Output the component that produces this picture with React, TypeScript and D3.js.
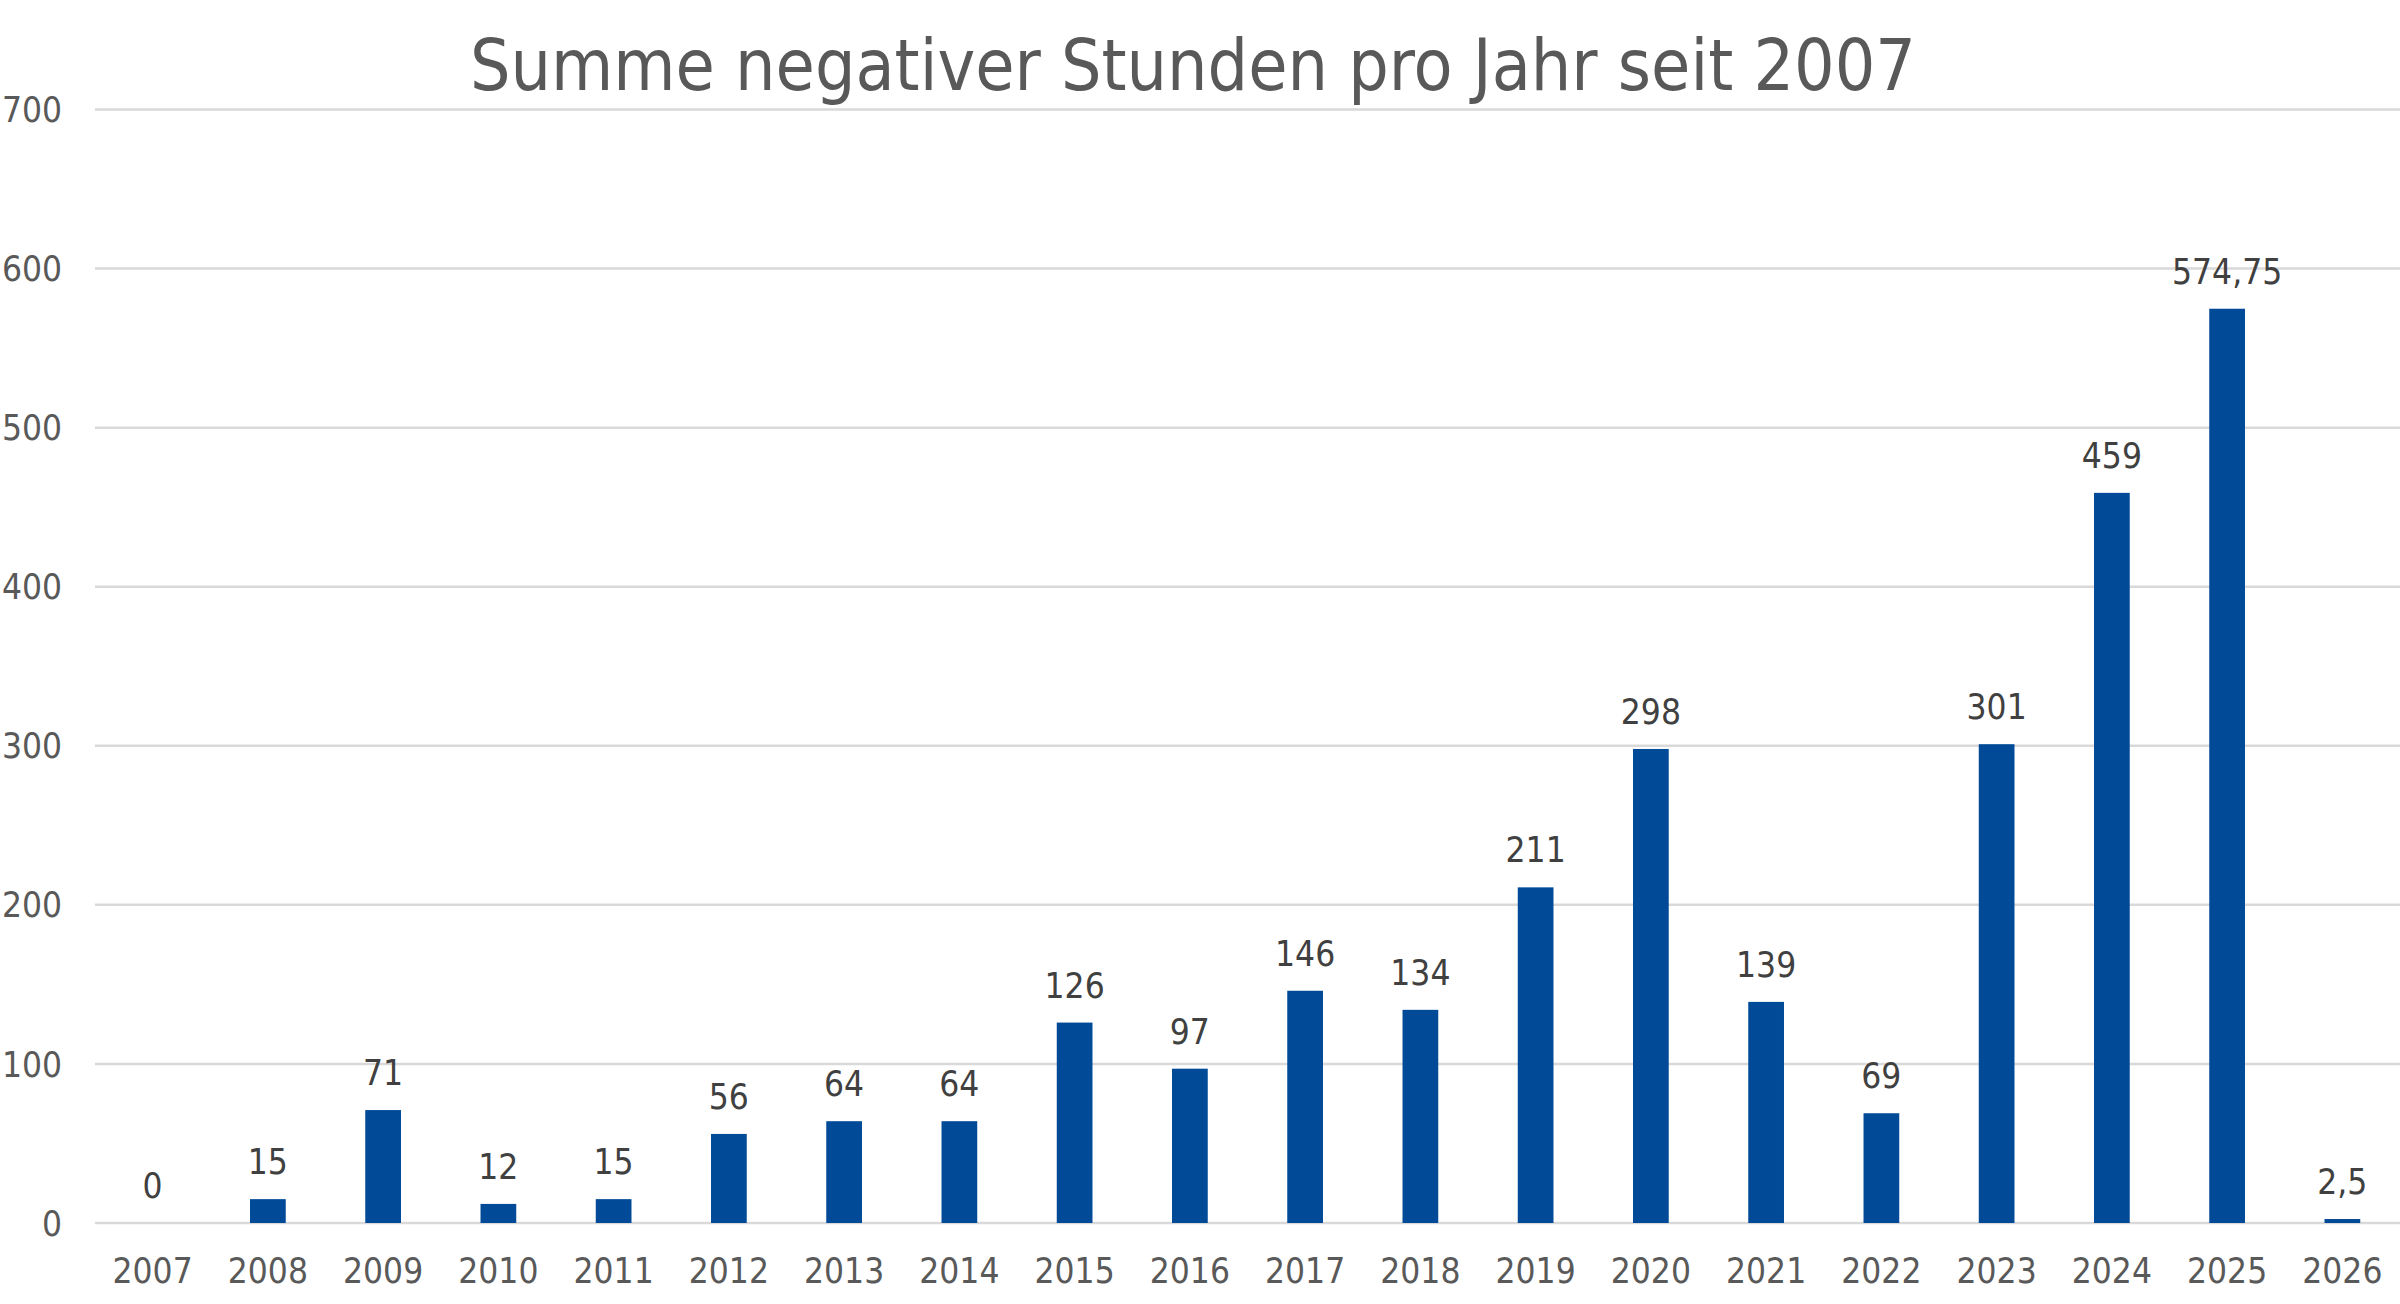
import { useEffect, useRef } from "react";
import { select, scaleBand, scaleLinear, range } from "d3";

const years = [
  "2007", "2008", "2009", "2010", "2011", "2012", "2013", "2014", "2015", "2016",
  "2017", "2018", "2019", "2020", "2021", "2022", "2023", "2024", "2025", "2026",
];
const hours = [0, 15, 71, 12, 15, 56, 64, 64, 126, 97, 146, 134, 211, 298, 139, 69, 301, 459, 574.75, 2.5];
const yTicks = [0, 100, 200, 300, 400, 500, 600, 700];
const title = "Summe negativer Stunden pro Jahr seit 2007";

const W = 2400;
const H = 1304;
const FONT = "'DejaVu Sans Condensed', 'DejaVu Sans', sans-serif";
const TEXT = "#595959";
const BAR = "#004A97";

const fmt = (v: number) => String(v).replace(".", ",");

export default function App() {
  const ref = useRef<SVGSVGElement | null>(null);

  useEffect(() => {
    if (!ref.current) return;
    const svg = select(ref.current);
    svg.selectAll("*").remove();

    const x = scaleBand<string>().domain(years).range([95, 2400]).padding(0);
    const y = scaleLinear().domain([0, 700]).range([1223, 109.5]);
    const barW = x.bandwidth() * 0.31;

    svg
      .append("g")
      .selectAll("line")
      .data(yTicks)
      .join("line")
      .attr("x1", 95)
      .attr("x2", 2400)
      .attr("y1", (d) => y(d))
      .attr("y2", (d) => y(d))
      .attr("stroke", "#d9d9d9")
      .attr("stroke-width", 2.5);

    svg
      .append("g")
      .selectAll("text")
      .data(yTicks)
      .join("text")
      .attr("x", 62)
      .attr("y", (d) => y(d))
      .attr("dy", "0.36em")
      .attr("text-anchor", "end")
      .attr("font-family", FONT)
      .attr("font-size", 35)
      .attr("fill", TEXT)
      .text((d) => String(d));

    const idx = range(years.length);

    svg
      .append("g")
      .selectAll("rect")
      .data(idx)
      .join("rect")
      .attr("x", (i) => (x(years[i]) ?? 0) + x.bandwidth() / 2 - barW / 2)
      .attr("width", barW)
      .attr("y", (i) => y(hours[i]))
      .attr("height", (i) => y(0) - y(hours[i]))
      .attr("fill", BAR);

    svg
      .append("g")
      .selectAll("text")
      .data(idx)
      .join("text")
      .attr("x", (i) => (x(years[i]) ?? 0) + x.bandwidth() / 2)
      .attr("y", (i) => y(hours[i]) - 25)
      .attr("text-anchor", "middle")
      .attr("font-family", FONT)
      .attr("font-size", 35)
      .attr("fill", "#404040")
      .text((i) => fmt(hours[i]));

    svg
      .append("g")
      .selectAll("text")
      .data(years)
      .join("text")
      .attr("x", (d) => (x(d) ?? 0) + x.bandwidth() / 2)
      .attr("y", 1270)
      .attr("dy", "0.36em")
      .attr("text-anchor", "middle")
      .attr("font-family", FONT)
      .attr("font-size", 35)
      .attr("fill", TEXT)
      .text((d) => d);

    svg
      .append("text")
      .attr("x", 1193)
      .attr("y", 90)
      .attr("text-anchor", "middle")
      .attr("font-family", FONT)
      .attr("font-size", 71)
      .attr("fill", TEXT)
      .text(title);
  }, []);

  return (
    <svg
      ref={ref}
      width={W}
      height={H}
      style={{ position: "absolute", left: 0, top: 0, background: "#fff" }}
    />
  );
}
